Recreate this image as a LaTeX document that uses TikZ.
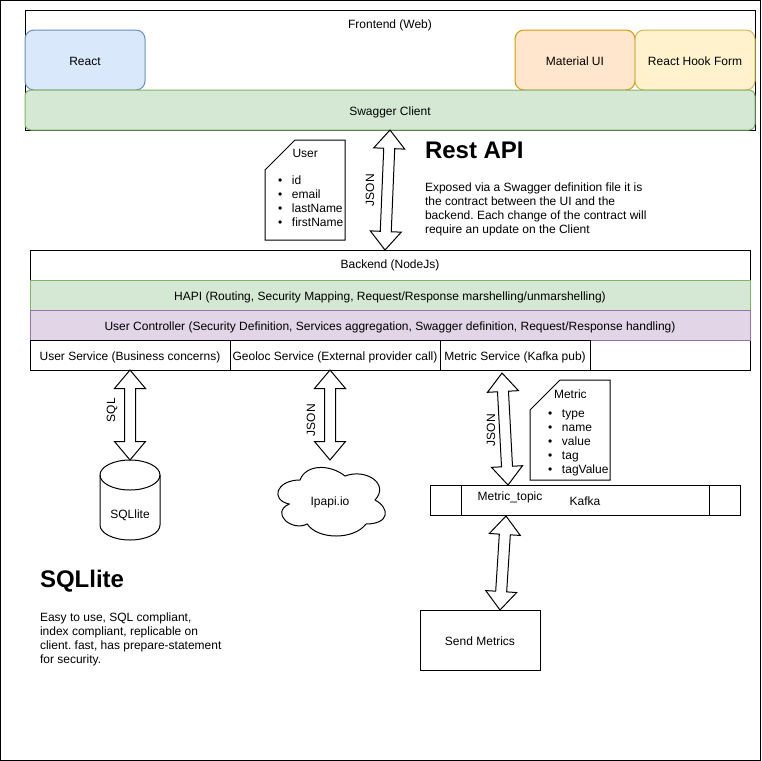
\documentclass[tikz,border=0pt]{standalone}
\usepackage{fontspec}
\setmainfont{Liberation Sans}
\usetikzlibrary{calc}
\definecolor{bluefill}{HTML}{DAE8FC}
\definecolor{bluedraw}{HTML}{6C8EBF}
\definecolor{greenfill}{HTML}{D5E8D4}
\definecolor{greendraw}{HTML}{82B366}
\definecolor{purplefill}{HTML}{E1D5E7}
\definecolor{purpledraw}{HTML}{9673A6}
\definecolor{orangefill}{HTML}{FFE6CC}
\definecolor{orangedraw}{HTML}{D79B00}
\definecolor{yellowfill}{HTML}{FFF2CC}
\definecolor{yellowdraw}{HTML}{D6B656}
\frenchspacing
\tikzstyle{plain text} = [inner sep=0pt,outer sep=0pt,text height=10pt,text depth=0pt,font=\fontsize{12}{14}\selectfont]
\tikzstyle{box} = [plain text,draw,rectangle,line width=1pt]
\tikzstyle{tile} = [box,minimum width=120pt,minimum height=60pt,rounded corners=9pt]
\tikzstyle{layer} = [box,minimum width=720pt,minimum height=30pt]
\tikzstyle{service} = [box,minimum height=30pt]
\tikzstyle{card} = [inner sep=0pt,outer sep=0pt,minimum width=80pt,minimum height=100pt]
\tikzstyle{item} = [plain text,anchor=west]
\tikzstyle{heading} = [inner sep=0pt,outer sep=0pt,anchor=west,font=\fontsize{24}{28}\selectfont\bfseries]
\tikzstyle{para} = [inner sep=0pt,outer sep=0pt,font=\fontsize{12}{14}\selectfont,anchor=north west,align=left]
\tikzstyle{wire} = [draw,fill=white,line width=1pt,to path={
	-- ($(\tikztostart)!18.5pt!(\tikztotarget)!15.5pt!90:(\tikztotarget)$)
	-- ($(\tikztostart)!18.5pt!(\tikztotarget)!5.5pt!90:(\tikztotarget)$)
	-- ($(\tikztotarget)!18.5pt!(\tikztostart)!5.5pt!-90:(\tikztostart)$)
	-- ($(\tikztotarget)!18.5pt!(\tikztostart)!15.5pt!-90:(\tikztostart)$)
	-- (\tikztotarget)
	-- ($(\tikztotarget)!18.5pt!(\tikztostart)!15.5pt!90:(\tikztostart)$)
	-- ($(\tikztotarget)!18.5pt!(\tikztostart)!5.5pt!90:(\tikztostart)$)
	-- ($(\tikztostart)!18.5pt!(\tikztotarget)!5.5pt!-90:(\tikztotarget)$)
	-- ($(\tikztostart)!18.5pt!(\tikztotarget)!15.5pt!-90:(\tikztotarget)$)
	-- cycle}]
\newcommand{\bulleted}[1]{\makebox[14pt][l]{\textbullet}#1}
\newcommand{\cardoutline}[1]{\draw[line width=1pt] ([xshift=30pt]#1.north west) -- (#1.north east) -- (#1.south east) -- (#1.south west) -- ([yshift=-30pt]#1.north west) -- cycle;}

\begin{document}
\begin{tikzpicture}[x=1pt,y=-1pt]
	\useasboundingbox (0,0) rectangle (761,761);
	\node[box,minimum size=760pt] (page) at (380.5,380.5) {};

	% First we draw the frontend
	\node[box,minimum width=730pt,minimum height=120pt] (frontend) at (390,70) {};
	\node[plain text] (frontendtitle) at (390,23) {Frontend (Web)};
	\node[tile,fill=bluefill,draw=bluedraw] (react) at (85,60) {React};
	\node[tile,fill=orangefill,draw=orangedraw] (material) at (575,60) {Material UI};
	\node[tile,fill=yellowfill,draw=yellowdraw] (hookform) at (695,60) {React Hook Form};
	\node[box,fill=greenfill,draw=greendraw,minimum width=730pt,minimum height=40pt,rounded corners=6pt] (swagger) at (390,110) {Swagger Client};

	% Then the backend and its layers
	\node[box,minimum width=720pt,minimum height=120pt] (backend) at (390,310) {};
	\node[plain text] (backendtitle) at (390,263) {Backend (NodeJs)};
	\node[layer,fill=greenfill,draw=greendraw] (hapi) at (390,295) {HAPI (Routing, Security Mapping, Request/Response marshelling/unmarshelling)};
	\node[layer,fill=purplefill,draw=purpledraw] (controller) at (390,325) {User Controller (Security Definition, Services aggregation, Swagger definition, Request/Response handling)};
	\foreach \pos/\name/\size/\caption in {{(130,355)/userservice/200/User Service (Business concerns)}, {(335,355)/geoservice/210/Geoloc Service (External provider call)}, {(515,355)/metricservice/150/Metric Service (Kafka pub)}}
	\node[service,minimum width=\size pt] (\name) at \pos {\caption};

	% The stores and services below
	\node[inner sep=0pt,outer sep=0pt,minimum width=60pt,minimum height=80pt] (sqllite) at (130,500) {};
	\draw[line width=1pt] ([yshift=-15pt]sqllite.north west) arc[start angle=180,end angle=0,x radius=30pt,y radius=15pt] -- ([yshift=15pt]sqllite.south east) arc[start angle=0,end angle=-180,x radius=30pt,y radius=15pt] -- cycle;
	\draw[line width=1pt] ([yshift=-15pt]sqllite.north west) arc[start angle=180,end angle=360,x radius=30pt,y radius=15pt];
	\node[plain text] (sqllabel) at (130,513) {SQLlite};
	\draw[line width=1pt] (300,480) .. controls (276,480) and (270,500) .. (289.2,504)
		.. controls (270,512.8) and (291.6,532) .. (307.2,524)
		.. controls (318,540) and (354,540) .. (366,524)
		.. controls (390,524) and (390,508) .. (375,500)
		.. controls (390,484) and (366,468) .. (345,476)
		.. controls (330,464) and (306,464) .. cycle;
	\node[plain text] (ipapi) at (330,500) {Ipapi.io};
	\node[box,minimum width=310pt,minimum height=30pt] (kafka) at (585,500) {Kafka};
	\draw[line width=1pt] ([xshift=31pt]kafka.north west) -- ([xshift=31pt]kafka.south west);
	\draw[line width=1pt] ([xshift=-31pt]kafka.north east) -- ([xshift=-31pt]kafka.south east);
	\node[plain text] (topic) at (510,495.5) {Metric\_topic};
	\node[box,minimum width=120pt,minimum height=60pt] (sendmetrics) at (480,640) {Send Metrics};

	% Free ends of the connectors
	\foreach \x/\y/\name in {390/130/restup, 385/250/restdown, 130/370/sqlup, 130/460/sqldown, 330/370/geoup, 330/460/geodown, 502/373/metricup, 508/485/metricdown, 506/516/sendup, 500/610/senddown}
	\coordinate (\name) at (\x,\y);

	% Connect them with block arrows
	\foreach \source/ \dest in {restup/restdown, sqlup/sqldown, geoup/geodown, metricup/metricdown, sendup/senddown}
	\draw[wire] (\source) to (\dest);

	\foreach \pos/\name/\caption in {{(369,190)/restlabel/JSON}, {(110,410)/sqlwirelabel/SQL}, {(310,420)/geolabel/JSON}, {(490,430)/metriclabel/JSON}}
	\node[plain text,rotate=90] (\name) at \pos {\caption};

	% The two cards
	\node[card] (usercard) at (305,190) {};
	\cardoutline{usercard}
	\node[plain text,anchor=west] (usertitle) at (292.5,152) {User};
	\foreach \y/\name in {179/id, 193/email, 207/lastName, 221/firstName}
	\node[item] (user\name) at (278,\y) {\bulleted{\name}};
	\node[card] (metriccard) at (570,430) {};
	\cardoutline{metriccard}
	\node[plain text,anchor=west] (metrictitle) at (554,393) {Metric};
	\foreach \y/\name in {412/type, 426/name, 440/value, 454/tag, 468/tagValue}
	\node[item] (metric\name) at (548,\y) {\bulleted{\name}};

	% And the notes
	\node[heading] (restheading) at (425,150) {Rest API};
	\node[para] (restnote) at (425,182.5) {Exposed via a Swagger definition file it is\\the contract between the UI and the\\backend. Each change of the contract will\\require an update on the Client};
	\node[heading] (sqlheading) at (40,581) {SQLlite};
	\node[para] (sqlnote) at (40,613) {Easy to use, SQL compliant,\\index compliant, replicable on\\client. fast, has prepare-statement\\for security.};
\end{tikzpicture}
\end{document}
